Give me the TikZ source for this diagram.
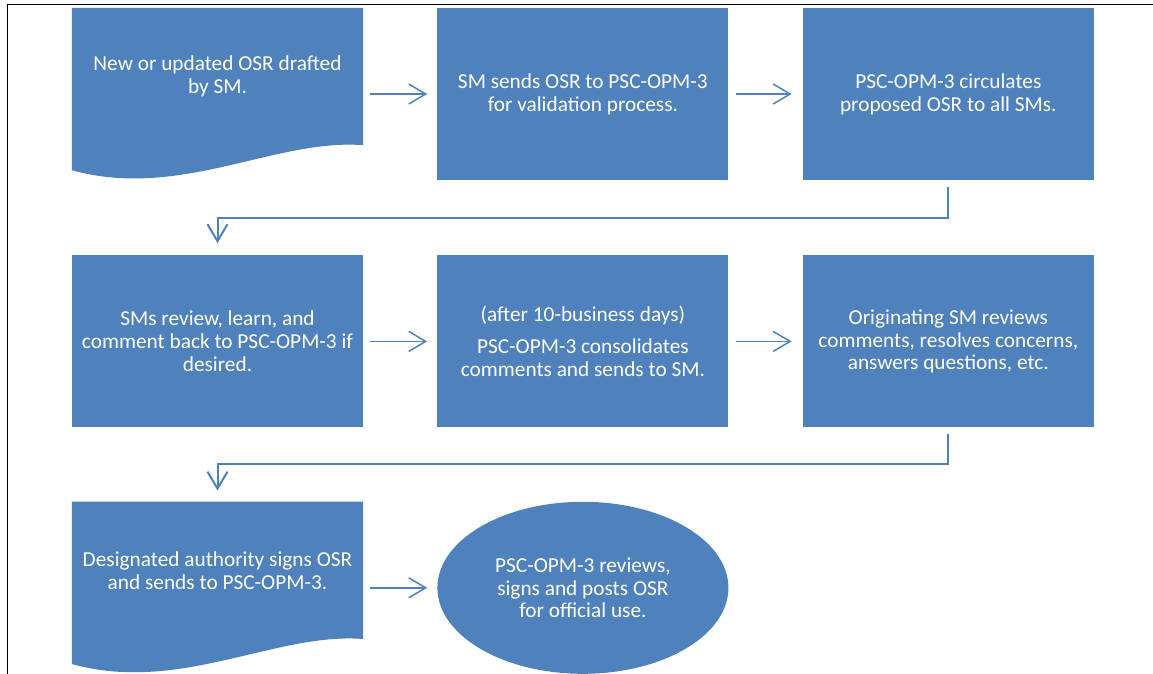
\documentclass[tikz,border=0pt]{standalone}
\usepackage{fontspec}
\setmainfont{Carlito}
\usetikzlibrary{positioning, shapes.geometric, arrows.meta, backgrounds}
\definecolor{osrblue}{HTML}{4F81BD}

\begin{document}
\begin{tikzpicture}[x = 1pt, y = 1pt,
    every node/.style = { align = center, text = white, inner sep = 0pt, font = \fontsize{21.3}{22.8}\selectfont },
    stepbox/.style = { fill = osrblue, minimum width = 291pt, minimum height = 172pt },
    docbox/.style = { minimum width = 291pt, minimum height = 137pt },
    endoval/.style = { fill = osrblue, shape = ellipse, minimum width = 291pt, minimum height = 172pt },
    flow/.style = { draw = osrblue, line width = 1.5pt, -{Straight Barb[length = 17pt, width = 20pt]} },
    elbow/.style = { flow, line width = 2pt } ]
    \useasboundingbox (0,0) rectangle (1153,-674);
    \draw[line width = 1pt] (1153,-5) -- (7,-5) -- (7,-674);

    % first row
    \node[docbox] (draft) at (217.5,-76.5) { New or updated OSR drafted \\ by SM. };
    \node[stepbox, right = 74pt of draft.north east, anchor = north west] (send)
      { SM sends OSR to PSC-OPM-3 \\ for validation process. };
    \node[stepbox, right = 74pt of send] (circ)
      { PSC-OPM-3 circulates \\ proposed OSR to all SMs. };

    % second row
    \node[stepbox, below = 75pt of send] (consol)
      { (after 10-business days) \\[9pt] PSC-OPM-3 consolidates \\ comments and sends to SM. };
    \node[stepbox, left = 74pt of consol] (review)
      { SMs review, learn, and \\ comment back to PSC-OPM-3 if \\ desired. };
    \node[stepbox, right = 74pt of consol] (origin)
      { Originating SM reviews \\ comments, resolves concerns, \\ answers questions, etc. };

    % last row
    \node[docbox, below = 74pt of review.south west, anchor = north west] (sign)
      { Designated authority signs OSR \\ and sends to PSC-OPM-3. };
    \node[endoval, below = 74pt of consol] (post)
      { PSC-OPM-3 reviews, \\ signs and posts OSR \\ for official use. };

    \begin{scope}[on background layer]
      \foreach \doc in {draft, sign}
        \fill[osrblue] (\doc.north west) -- (\doc.north east) -- (\doc.south east)
          .. controls +(-88,7) and +(108,-30) .. ([yshift=-25pt]\doc.south west) -- cycle;
    \end{scope}

    \draw[flow, shorten < = 7pt, shorten > = 10pt] (draft.east |- send.west) -- (send.west);
    \draw[flow, shorten < = 7pt, shorten > = 11pt] (send) -- (circ);
    \draw[elbow, shorten < = 7pt, shorten > = 12pt] (circ.south) -- ++(0,-38) -| (review.north);
    \draw[flow, shorten < = 7pt, shorten > = 10pt] (review) -- (consol);
    \draw[flow, shorten < = 7pt, shorten > = 11pt] (consol) -- (origin);
    \draw[elbow, shorten < = 6pt, shorten > = 11pt] (origin.south) -- ++(0,-36) -| (sign.north);
    \draw[flow, shorten < = 7pt, shorten > = 10pt] (sign.east |- post.west) -- (post.west);
\end{tikzpicture}
\end{document}
